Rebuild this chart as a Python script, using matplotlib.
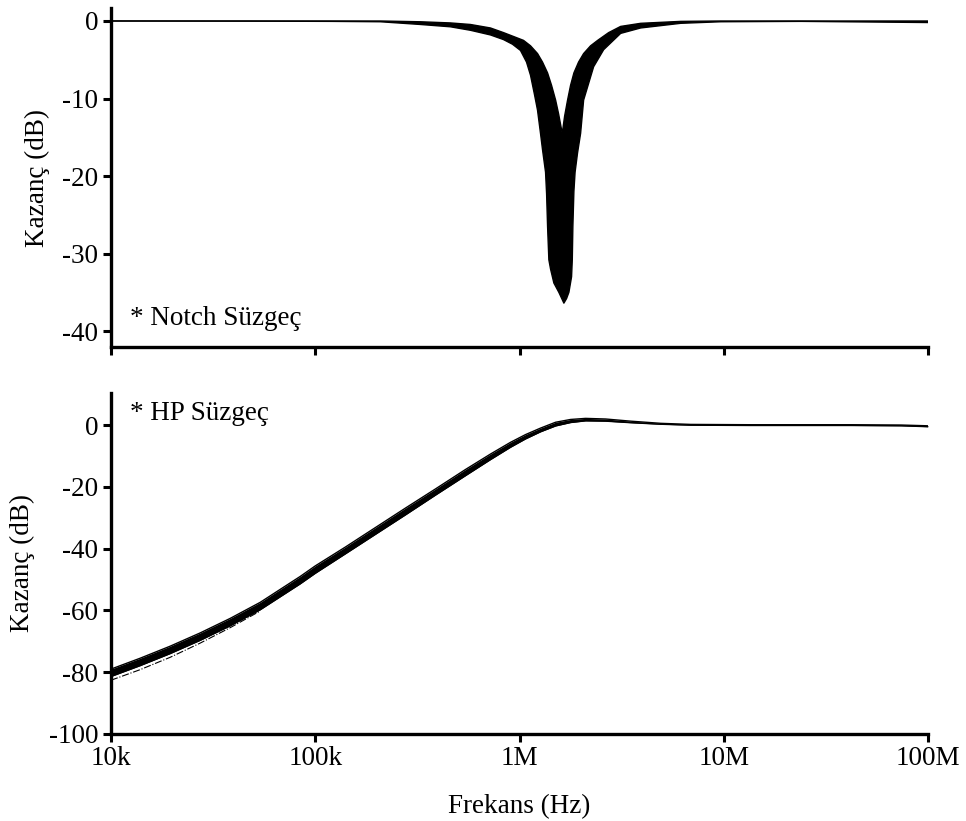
import matplotlib
matplotlib.use("Agg")
import matplotlib.pyplot as plt
from matplotlib.ticker import FixedLocator, FixedFormatter

plt.rcParams["font.family"] = ["Liberation Serif", "DejaVu Serif"]
plt.rcParams["font.size"] = 19.5

# --- Notch filter: envelope of the Monte-Carlo runs (Hz, dB) ---
# outer (lowest) edge of the band
notch_lo_f = [1.0e4, 4.801e4, 1.184e5, 2.083e5, 3.271e5, 4.590e5, 5.752e5,
              7.207e5, 8.35e5, 9.24e5, 1.011e6, 1.082e6, 1.132e6, 1.184e6,
              1.225e6, 1.267e6, 1.296e6, 1.341e6, 1.357e6, 1.372e6, 1.392e6,
              1.419e6, 1.473e6, 1.558e6, 1.649e6, 1.700e6, 1.745e6, 1.798e6,
              1.813e6, 1.825e6, 1.846e6, 1.871e6, 1.924e6, 1.991e6, 2.060e6,
              2.306e6, 2.582e6, 3.127e6, 3.919e6, 6.155e6, 9.67e6, 2.385e7,
              1.0e8]
notch_lo_db = [0.0, -0.02, -0.05, -0.1, -0.45, -0.75, -1.2,
               -1.8, -2.4, -3.0, -3.8, -5.3, -7.0, -9.5,
               -11.5, -14.5, -16.6, -19.5, -22.3, -26.5, -30.8,
               -32.0, -33.8, -35.0, -36.4, -35.8, -35.0, -33.0,
               -30.8, -26.5, -22.0, -19.5, -17.0, -14.5, -10.2,
               -5.9, -3.7, -1.6, -0.9, -0.3, -0.1, -0.05,
               -0.2]
# inner (highest) edge of the band
notch_hi_f = [1.0e4, 2.083e5, 3.271e5, 4.590e5, 5.752e5, 7.207e5, 8.35e5,
              9.559e5, 1.046e6, 1.132e6, 1.225e6, 1.296e6, 1.372e6, 1.435e6,
              1.502e6, 1.554e6, 1.619e6, 1.662e6, 1.719e6, 1.778e6, 1.846e6,
              1.946e6, 2.060e6, 2.228e6, 2.413e6, 2.731e6, 3.127e6, 3.919e6,
              6.155e6, 9.67e6, 1.0e8]
notch_hi_db = [0.0, 0.0, -0.1, -0.25, -0.45, -0.9, -1.5,
               -2.1, -2.5, -3.2, -4.2, -5.3, -6.7, -8.3,
               -10.2, -12.0, -14.5, -12.3, -10.2, -8.3, -6.7,
               -5.3, -4.2, -3.2, -2.5, -1.5, -0.7, -0.3,
               -0.05, 0.0, 0.0]

# --- High-pass filter band (Hz, lower / upper edge in dB) ---
hp_f = [1.0e4, 1.387e4, 1.946e4, 2.731e4, 3.831e4, 5.375e4, 7.542e4, 8.445e4,
        1.0e5, 1.404e5, 1.969e5, 2.762e5, 3.875e5, 5.437e5, 7.207e5, 9.035e5,
        1.070e6, 1.267e6, 1.502e6, 1.778e6, 2.106e6, 2.641e6, 3.501e6,
        4.912e6, 6.89e6, 1.357e7, 4.193e7, 7.371e7, 1.0e8]
hp_lo = [-81.4, -77.9, -74.0, -69.7, -65.0, -59.8, -53.5, -51.4,
         -48.0, -41.7, -35.4, -29.1, -22.7, -16.4, -11.2, -7.2,
         -4.5, -2.2, -0.3, 0.8, 1.35, 1.25, 0.75,
         0.25, -0.05, -0.15, -0.15, -0.25, -0.55]
hp_hi = [-79.0, -75.5, -71.6, -67.3, -62.6, -57.4, -51.1, -49.0,
         -45.6, -39.5, -33.2, -26.9, -20.7, -14.4, -9.4, -5.6,
         -3.1, -1.0, 0.9, 1.8, 2.15, 1.95, 1.25,
         0.55, 0.2, 0.1, 0.1, 0.0, -0.25]
# one outlying run (dash-dot) at the low end
hp_out_f = [1.0e4, 1.387e4, 1.946e4, 2.731e4, 3.831e4, 5.375e4]
hp_out_db = [-82.6, -79.2, -75.2, -70.6, -65.6, -60.2]

xticks = [1e4, 1e5, 1e6, 1e7, 1e8]
xlabels = ["10k", "100k", "1M", "10M", "100M"]

fig = plt.figure(figsize=(9.66, 8.21), dpi=100)
ax1 = fig.add_axes([0.1149, 0.5773, 0.8458, 0.4130])
ax2 = fig.add_axes([0.1149, 0.1060, 0.8458, 0.4153])

# notch band: polygon between the outer and inner envelopes
poly_f = notch_lo_f + notch_hi_f[::-1]
poly_db = notch_lo_db + notch_hi_db[::-1]
ax1.fill(poly_f, poly_db, color="black", lw=0)
ax1.plot(notch_lo_f, notch_lo_db, color="black", lw=1.0)
ax1.plot(notch_hi_f, notch_hi_db, color="black", lw=1.0)
ax1.text(0.023, 0.065, "* Notch Süzgeç", transform=ax1.transAxes,
         ha="left", va="baseline")

ax2.fill_between(hp_f, hp_lo, hp_hi, color="black", lw=0)
ax2.plot(hp_f, hp_lo, color="black", lw=1.0)
ax2.plot(hp_f, hp_hi, color="black", lw=1.0)
ax2.plot(hp_out_f, hp_out_db, color="black", lw=0.8, ls="-.")
ax2.text(0.023, 0.94, "* HP Süzgeç", transform=ax2.transAxes,
         ha="left", va="center")

for ax in (ax1, ax2):
    ax.set_xscale("log")
    ax.set_xlim(1e4, 1e8)
    ax.xaxis.set_major_locator(FixedLocator(xticks))
    ax.xaxis.set_minor_locator(FixedLocator([]))
    for s in ("top", "right"):
        ax.spines[s].set_visible(False)
    for s in ("left", "bottom"):
        ax.spines[s].set_linewidth(2.4)
    ax.tick_params(direction="out", length=6, width=2.2, labelsize=19.5, pad=3)
    ax.set_ylabel("Kazanç (dB)", fontsize=19.5)
    ax.patch.set_visible(False)

ax1.set_ylim(-42.06, 1.68)
ax1.set_yticks([0, -10, -20, -30, -40])
ax1.set_yticklabels(["0", "-10", "-20", "-30", "-40"])
ax1.xaxis.set_major_formatter(FixedFormatter([""] * 5))
ax1.yaxis.set_label_coords(-0.0747, 0.5)

ax2.set_ylim(-100, 10.36)
ax2.set_yticks([0, -20, -40, -60, -80, -100])
ax2.set_yticklabels(["0", "-20", "-40", "-60", "-80", "-100"])
ax2.xaxis.set_major_formatter(FixedFormatter(xlabels))
ax2.yaxis.set_label_coords(-0.093, 0.5)
ax2.set_xlabel("Frekans (Hz)", fontsize=19.5, labelpad=16)

fig.savefig("out.png", dpi=100)
